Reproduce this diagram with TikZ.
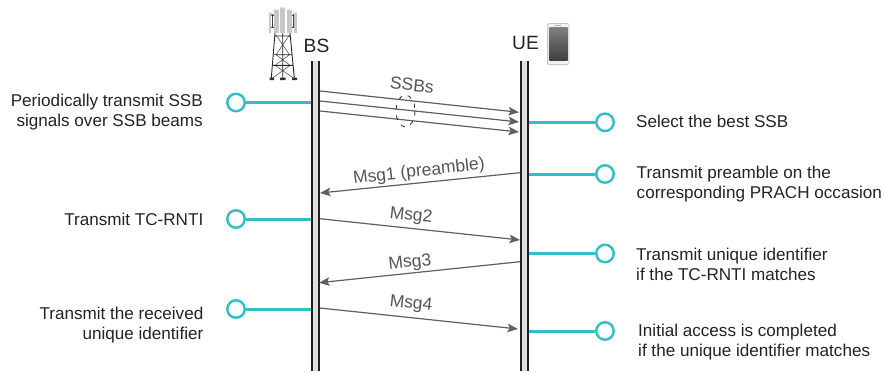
\documentclass[tikz,border=0pt]{standalone}
\usepackage{fontspec}
\setmainfont{Liberation Sans}
\usetikzlibrary{arrows.meta}
\definecolor{teal1}{RGB}{49,190,201}
\definecolor{arr}{RGB}{95,95,95}
\definecolor{txt}{RGB}{35,35,35}
\tikzset{x=1pt,y=-1pt,
 msg/.style={draw=arr,line width=1.2pt,-{Stealth[length=10.5pt,width=8.5pt,inset=2.2pt]}},
 msglabel/.style={text=arr!90!black,font=\fontsize{17.5}{17}\selectfont,inner sep=0pt},
 circ/.style={circle,draw=teal1,line width=2.4pt,fill=white,minimum size=17.5pt,inner sep=0pt},
 tie/.style={draw=teal1,line width=3pt},
 desc/.style={text=txt,font=\fontsize{17.1}{20}\selectfont,inner sep=0pt,align=left},
 head/.style={text=txt,font=\fontsize{19.2}{19}\selectfont,inner sep=0pt},
 tower/.style={draw=black!65,line width=0.6pt},
 towerk/.style={draw=black!85,line width=0.9pt},
 panel/.style={fill=black!22},
 lifegray/.style={fill=black!13},
 lifeblack/.style={draw=black!88,line width=2.3pt}
}
\begin{document}
\begin{tikzpicture}
\useasboundingbox (0,0) rectangle (885,373);
% ties under lifelines
\coordinate (t1) at (312,102.5); \coordinate (t2) at (312,219); \coordinate (t3) at (312,309);
\coordinate (u1) at (528.5,122.3); \coordinate (u2) at (528.5,174); \coordinate (u3) at (528.5,253.5); \coordinate (u4) at (528.5,331);
\node[circ] (c1) at (236,102.5) {};
\node[circ] (c2) at (236,219) {};
\node[circ] (c3) at (236,309) {};
\node[circ] (r1) at (605,122.3) {};
\node[circ] (r2) at (605,174) {};
\node[circ] (r3) at (605,253.5) {};
\node[circ] (r4) at (605,331) {};
\draw[tie] (c1)--(t1); \draw[tie] (c2)--(t2); \draw[tie] (c3)--(t3);
\draw[tie] (r1)--(u1); \draw[tie] (r2)--(u2); \draw[tie] (r3)--(u3); \draw[tie] (r4)--(u4);
% lifelines
\fill[lifegray] (312.2,61) rectangle (318.9,371);
\fill[lifegray] (521.2,61) rectangle (527.7,371);
\draw[lifeblack] (312.2,61)--(312.2,371) (318.9,61)--(318.9,371);
\draw[lifeblack] (521.2,61)--(521.2,371) (527.7,61)--(527.7,371);
\node[head] (bslabel) at (316.5,46) {BS};
\node[head] (uelabel) at (525.5,43) {UE};
% tower lattice
\draw[tower] (276,54.7)--(290,65.3)--(272.5,78) (289.5,54.7)--(275,65.3)--(293.5,78)
 (276,35)--(289.5,54.7) (289.5,35)--(276,54.7);
\draw[towerk] (275,33)--(271.3,78) (290,33)--(294.3,78) (282.7,33)--(282.7,78)
 (274,54.7)--(291.7,54.7) (273,65.3)--(292.7,65.3) (275,36)--(290,36);
\fill[black!80] (269.5,77.5) rectangle (274,80) (280,77.5) rectangle (285.5,80) (292,77.5) rectangle (297,80);
% tower antennas
\draw[black!75,line width=0.9pt] (272,14)--(272,28) (293,14)--(293,28) (271,15)--(275,15) (271,27)--(275,27) (291,15)--(295,15) (291,27)--(295,27);
\foreach \x/\w/\t in {268.8/2.6/11,274/5.2/8,280/5.2/6,286.8/5.2/8,294/2.8/11}{
 \shade[top color=white,bottom color=black!25,middle color=black!20] (\x,\t) rectangle ++(\w,4);
 \fill[panel] (\x,\t+4) rectangle ++(\w,29-\t);
}
% phone
\draw[black!22,fill=black!5,rounded corners=1.5pt,line width=0.8pt] (547.6,23.4) rectangle (569,64.6);
\shade[top color=black!50,bottom color=black!75] (549.4,27.4) rectangle (567.5,60.3);
\fill[black!35] (555,25) rectangle (561,26.2);
% ssb
\coordinate (s1a) at (320,91); \coordinate (s1b) at (519,112.3);
\coordinate (s2a) at (320,101); \coordinate (s2b) at (519,122);
\coordinate (s3a) at (320,111); \coordinate (s3b) at (519,132);
\draw[msg] (s1a)--(s1b); \draw[msg] (s2a)--(s2b); \draw[msg] (s3a)--(s3b);
\draw[black!85,line width=0.8pt,dash pattern=on 4.5pt off 6pt] (405.5,111) ellipse [x radius=9.5,y radius=16];
\node[msglabel,rotate=-6] (ssbs) at (412,85) {SSBs};
% messages
\coordinate (m1a) at (520,172.7); \coordinate (m1b) at (320,193);
\coordinate (m2a) at (320,218.7); \coordinate (m2b) at (520,240);
\coordinate (m3a) at (520,261.7); \coordinate (m3b) at (319,282.7);
\coordinate (m4a) at (320,308); \coordinate (m4b) at (518,329);
\draw[msg] (m1a)--(m1b); \draw[msg] (m2a)--(m2b); \draw[msg] (m3a)--(m3b); \draw[msg] (m4a)--(m4b);
\node[msglabel,rotate=6.5] (l1) at (419,172) {Msg1 (preamble)};
\node[msglabel,rotate=-6] (l2) at (411,216) {Msg2};
\node[msglabel,rotate=6] (l3) at (410,263) {Msg3};
\node[msglabel,rotate=-6] (l4) at (411,304.5) {Msg4};
% text
\node[desc,align=right,anchor=east] (d1) at (203,112.5) {Periodically transmit SSB\\signals over SSB beams};
\node[desc,anchor=east] (d2) at (203.5,219) {Transmit TC-RNTI};
\node[desc,align=right,anchor=east] (d3) at (203.5,325.5) {Transmit the received\\unique identifier};
\node[desc,anchor=west] (e1) at (636,121.5) {Select the best SSB};
\node[desc,anchor=west] (e2) at (636.5,184.5) {Transmit preamble on the\\corresponding PRACH occasion};
\node[desc,anchor=west] (e3) at (636,264) {Transmit unique identifier\\if the TC-RNTI matches};
\node[desc,anchor=west] (e4) at (638,342) {Initial access is completed\\if the unique identifier matches};
\end{tikzpicture}
\end{document}
